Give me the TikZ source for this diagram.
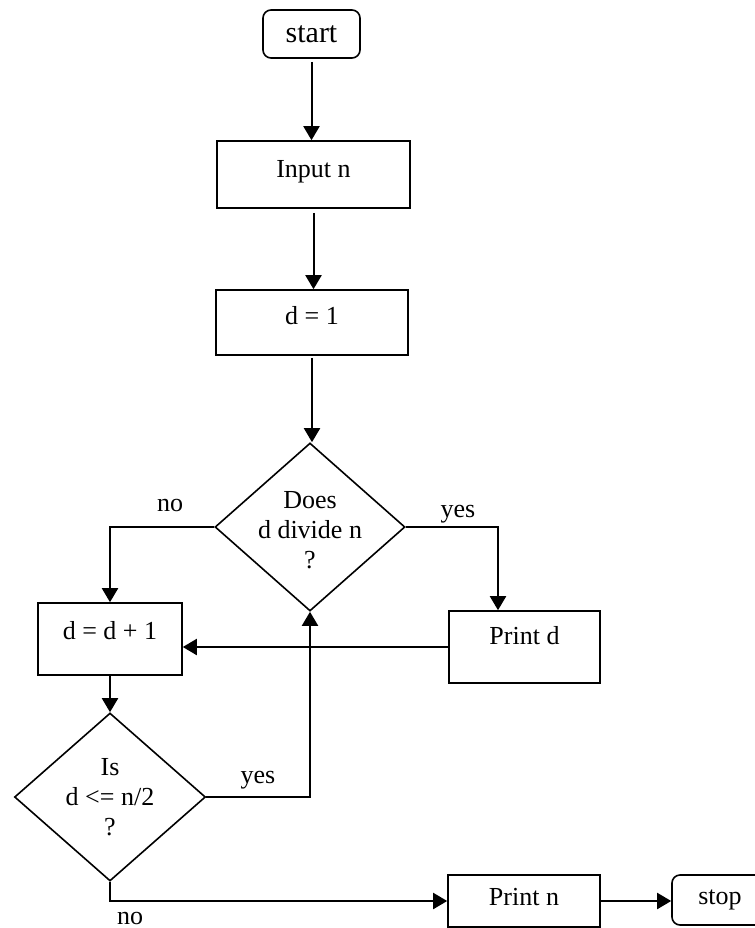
\documentclass[tikz,border=0pt]{standalone}
\usepackage{fontspec}
\setmainfont{Liberation Serif}
\usetikzlibrary{shapes.geometric,arrows.meta}
\begin{document}
\begin{tikzpicture}[x=0.5pt,y=-0.5pt,
  font=\fontsize{13}{15}\selectfont,
  proc/.style={draw, line width=0.8pt, inner sep=0pt, text height=0.7em},
  term/.style={draw, rounded corners=4pt, line width=0.8pt, inner sep=0pt},
  dec/.style={draw, diamond, line width=0.8pt, inner sep=0pt},
  arr/.style={line width=1pt, -{Triangle[length=7pt,width=8pt]}},
  lab/.style={inner sep=0pt}]
\clip (0,0) rectangle (755,928);
% nodes
\node[term, minimum width=48.5pt, minimum height=24pt, font=\fontsize{15}{17}\selectfont] (start) at (311.5,34) {start};
\node[proc, minimum width=96.5pt, minimum height=33.5pt, text depth=4.5pt] (input) at (313.5,174.5) {Input n};
\node[proc, minimum width=96pt, minimum height=32.5pt, text depth=5.5pt] (d1) at (312,322.5) {d = 1};
\node[dec, minimum width=95pt, minimum height=84pt] (dia1) at (310,527) {};
\node[align=center, lab] (dia1t) at (310,530) {Does\\d divide n\\?};
\node[proc, minimum width=72pt, minimum height=36pt, text depth=7pt] (inc) at (110,639) {d = d + 1};
\node[proc, minimum width=75.5pt, minimum height=36pt, text depth=10pt] (printd) at (524.5,647) {Print d};
\node[dec, minimum width=95.5pt, minimum height=84pt] (dia2) at (110,797) {};
\node[align=center, lab] (dia2t) at (110,797) {Is\\d <= n/2\\?};
\node[proc, minimum width=76pt, minimum height=26pt, text depth=3pt] (printn) at (524,901) {Print n};
\node[term, minimum width=48pt, minimum height=25pt] (stop) at (720,900) {stop};
% labels
\node[lab] (no1) at (170,505) {no};
\node[lab] (yes1) at (458,514) {yes};
\node[lab] (yes2) at (258,780) {yes};
\node[lab] (no2) at (130,918) {no};
% connectors
\draw[arr] ([yshift=-1.5pt]start.south) -- (start.south |- input.north);
\draw[arr] ([yshift=-2pt]input.south) -- (input.south |- d1.north);
\draw[arr] ([yshift=-1pt]d1.south) -- (d1.south |- dia1.north);
\draw[arr] (dia1.west) -| (inc.north);
\draw[arr] (dia1.east) -| ([xshift=-13.25pt]printd.north);
\draw[arr] (printd.west) -- (printd.west -| inc.east);
\draw[arr] (inc.south) -- (dia2.north);
\draw[arr] (dia2.east) -| (dia1.south);
\draw[arr] (dia2.south) |- (printn.west);
\draw[arr] (printn.east) -- (printn.east -| stop.west);
\end{tikzpicture}
\end{document}
